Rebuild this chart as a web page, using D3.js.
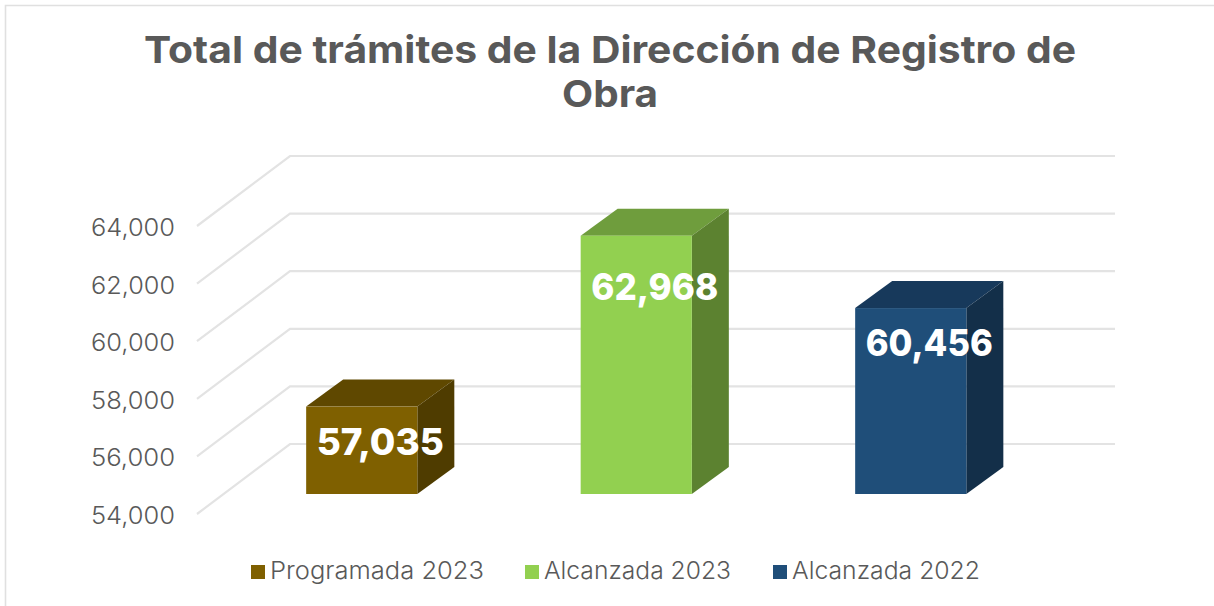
<!DOCTYPE html>
<html><head><meta charset="utf-8">
<script src="https://cdn.jsdelivr.net/npm/d3@7"></script>
<style>html,body{margin:0;padding:0;background:#fff}svg{display:block}text{font-family:Inter,"Open Sans",sans-serif}</style>
</head><body><svg id="c" width="1214" height="606"></svg>
<script>
const titleLines = ["Total de trámites de la Dirección de Registro de", "Obra"];
const categories = ["Programada 2023", "Alcanzada 2023", "Alcanzada 2022"];
const values = [57035, 62968, 60456];
const tickValues = [54000, 56000, 58000, 60000, 62000, 64000];
const frontColors = ["#7f6000", "#92d050", "#1f4e79"];
const topColors = ["#5f4800", "#6f9d3d", "#17395b"];
const sideColors = ["#4f3c00", "#5c8230", "#132f49"];

const svg = d3.select("#c");
const textColor = "#595959", gridColor = "#e3e3e3";
const y = d3.scaleLinear().domain([54000, 64000]).range([514, 226]); // axis plane
const x = d3.scaleBand().domain(categories).range([224.5, 1048]).paddingInner(0.595).paddingOuter(0.2975);
const wallDx = 93, wallDy = -70, wallRight = 1115;
const barDx = 37, barDy = -27, barLift = 20;
const labelDy = [35, 51, 35];

// frame
svg.append("path").attr("d", "M5.5,606V5.5H1214").attr("fill", "none").attr("stroke", "#e0e0e0").attr("stroke-width", 1.6);

// title
svg.append("g").selectAll("text").data(titleLines).join("text")
  .attr("x", 610).attr("y", (d, i) => 63 + i * 44).attr("text-anchor", "middle")
  .attr("font-size", 37.5).attr("font-weight", 700).attr("fill", textColor)
  .attr("textLength", (d, i) => i === 0 ? 932 : 96).attr("lengthAdjust", "spacingAndGlyphs")
  .text(d => d);

// grid
const grid = svg.append("g").attr("fill", "none").attr("stroke", gridColor).attr("stroke-width", 2.2);
grid.selectAll("path").data(tickValues).join("path")
  .attr("d", d => `M197,${y(d)}L${197 + wallDx},${y(d) + wallDy}H${wallRight}`);

// axis labels
svg.append("g").selectAll("text").data(tickValues).join("text")
  .attr("x", 175).attr("y", d => y(d) + 10).attr("text-anchor", "end")
  .attr("font-size", 24).attr("font-weight", 300).attr("fill", textColor).attr("textLength", 84).attr("lengthAdjust", "spacingAndGlyphs")
  .text(d => d3.format(",")(d));

// bars
const bars = svg.append("g").selectAll("g").data(values).join("g");
const X0 = (d, i) => x(categories[i]), W = x.bandwidth();
const Y0 = y(54000) - barLift, Yv = d => y(d) - barLift;
bars.append("path").attr("fill", (d, i) => topColors[i])
  .attr("d", (d, i) => { const a = X0(d, i), t = Yv(d); return `M${a},${t}l${barDx},${barDy}h${W}l${-barDx},${-barDy}Z`; });
bars.append("path").attr("fill", (d, i) => sideColors[i])
  .attr("d", (d, i) => { const b = X0(d, i) + W, t = Yv(d); return `M${b},${t}l${barDx},${barDy}V${Y0 + barDy}L${b},${Y0}Z`; });
bars.append("rect").attr("fill", (d, i) => frontColors[i])
  .attr("x", X0).attr("y", Yv).attr("width", W).attr("height", d => Y0 - Yv(d));
bars.append("text").attr("text-anchor", "middle").attr("fill", "#fff").attr("font-weight", 800)
  .attr("font-size", 37).attr("textLength", 127).attr("lengthAdjust", "spacingAndGlyphs")
  .attr("x", (d, i) => X0(d, i) + (W + barDx) / 2)
  .attr("y", (d, i) => Yv(d) + labelDy[i] + 13)
  .text(d => d3.format(",")(d));

// legend
const legendX = [251, 525, 773], legendW = [214, 187, 188];
const leg = svg.append("g").selectAll("g").data(categories).join("g");
leg.append("rect").attr("x", (d, i) => legendX[i]).attr("y", 565).attr("width", 14).attr("height", 14)
  .attr("fill", (d, i) => frontColors[i]);
leg.append("text").attr("x", (d, i) => legendX[i] + 19).attr("y", 579)
  .attr("font-size", 24).attr("font-weight", 300).attr("fill", textColor)
  .attr("textLength", (d, i) => legendW[i]).attr("lengthAdjust", "spacingAndGlyphs")
  .text(d => d);
</script></body></html>
